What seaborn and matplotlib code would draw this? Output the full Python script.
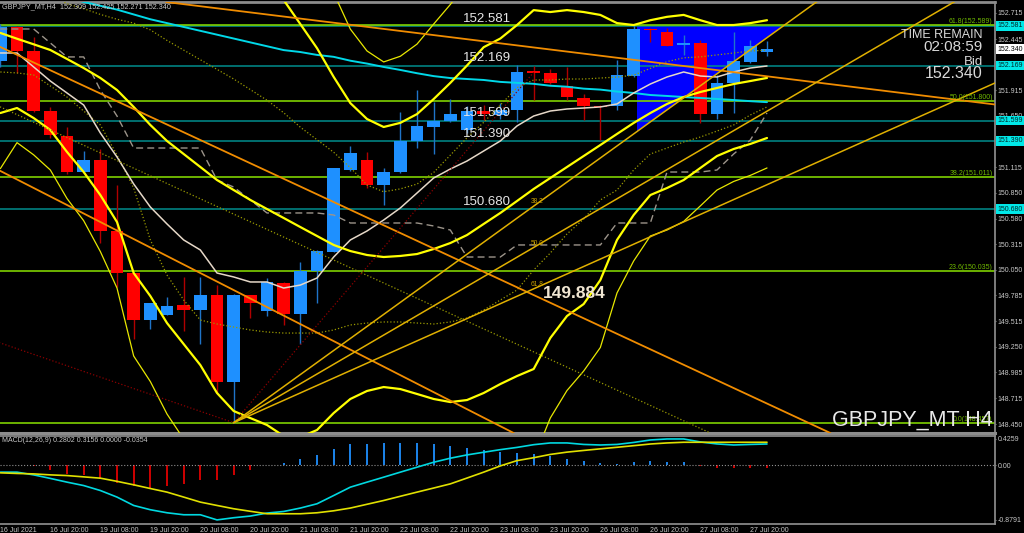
import numpy as np
import pandas as pd
import matplotlib
matplotlib.use('Agg')
import matplotlib.pyplot as plt
import matplotlib.transforms as mtransforms
import seaborn as sns

# H4 candles, bar 0 = 16 Jul 2021 08:00
opens = [152.217, 152.573, 152.324, 151.698, 151.440, 151.062, 151.190, 150.456, 150.014, 149.530,
         149.585, 149.685, 149.633, 149.786, 148.883, 149.786, 149.623, 149.910, 149.592, 150.038,
         150.238, 151.085, 151.190, 150.930, 151.062, 151.390, 151.535, 151.594, 151.500, 151.700,
         151.660, 151.708, 152.110, 152.090, 151.957, 151.836, 151.748, 151.750, 152.061, 152.550,
         152.520, 152.385, 152.400, 151.667, 151.985, 152.210, 152.309]
highs = [152.600, 152.580, 152.466, 151.740, 151.535, 151.286, 151.304, 150.930, 150.020, 149.710,
         149.771, 149.972, 149.972, 149.893, 149.796, 149.790, 149.968, 149.920, 150.135, 150.260,
         151.110, 151.338, 151.270, 151.110, 151.691, 151.916, 151.795, 151.820, 151.750, 151.760,
         151.780, 152.175, 152.160, 152.130, 152.158, 151.874, 151.760, 152.227, 152.590, 152.560,
         152.556, 152.487, 152.435, 152.072, 152.520, 152.430, 152.425]
lows = [152.150, 152.095, 151.690, 151.420, 151.040, 151.050, 150.330, 149.875, 149.330, 149.436,
        149.580, 149.415, 149.277, 148.769, 148.464, 149.547, 149.571, 149.478, 149.280, 149.703,
        150.230, 151.080, 150.900, 150.720, 151.050, 151.318, 151.249, 151.580, 151.470, 151.600,
        151.620, 151.587, 151.810, 151.980, 151.812, 151.605, 151.397, 151.708, 152.050, 152.417,
        152.370, 152.279, 151.570, 151.615, 151.674, 152.200, 152.271]
closes = [152.573, 152.324, 151.698, 151.449, 151.062, 151.190, 150.456, 150.014, 149.530, 149.703,
          149.678, 149.633, 149.789, 148.889, 149.786, 149.710, 149.920, 149.588, 150.040, 150.249,
          151.103, 151.259, 150.930, 151.068, 151.390, 151.540, 151.597, 151.664, 151.700, 151.670,
          151.710, 152.100, 152.090, 151.990, 151.840, 151.753, 151.738, 152.072, 152.546, 152.535,
          152.373, 152.395, 151.664, 151.990, 152.217, 152.370, 152.340]

# bollinger bands (20, dev 2 and dev 3)
bb_mid = [152.508, 152.448, 152.390, 152.331, 152.238, 152.144, 152.041, 151.916, 151.740, 151.553,
          151.387, 151.252, 151.117, 150.982, 150.878, 150.775, 150.681, 150.588, 150.494, 150.401,
          150.308, 150.245, 150.204, 150.183, 150.194, 150.214, 150.266, 150.328, 150.411, 150.526,
          150.640, 150.764, 150.889, 151.003, 151.117, 151.231, 151.345, 151.460, 151.574, 151.677,
          151.771, 151.843, 151.895, 151.937, 151.978, 152.009, 152.041]
bb_up = [153.339, 153.167, 153.155, 153.161, 153.203, 153.223, 153.256, 153.286, 153.463, 153.328,
         153.276, 153.224, 153.172, 153.192, 153.171, 153.038, 152.922, 152.850, 152.600, 152.350,
         152.052, 151.780, 151.615, 151.532, 151.575, 151.666, 151.822, 151.990, 152.170, 152.360,
         152.450, 152.590, 152.745, 152.725, 152.745, 152.725, 152.695, 152.610, 152.590, 152.640,
         152.675, 152.695, 152.640, 152.590, 152.590, 152.610, 152.640]
bb_low = [151.677, 151.729, 151.625, 151.501, 151.273, 151.065, 150.826, 150.546, 150.017, 149.778,
          149.498, 149.280, 149.062, 148.772, 148.585, 148.512, 148.440, 148.326, 148.315, 148.388,
          148.564, 148.710, 148.793, 148.834, 148.813, 148.762, 148.710, 148.678, 148.699, 148.772,
          148.865, 148.948, 149.021, 149.343, 149.571, 149.695, 149.944, 150.360, 150.619, 150.826,
          150.899, 150.982, 151.107, 151.231, 151.304, 151.356, 151.418]
bb3_up = [153.75, 153.53, 153.54, 153.58, 153.69, 153.76, 153.86, 153.97, 154.32, 154.22,
          154.22, 154.21, 154.20, 154.30, 154.32, 154.17, 154.04, 153.98, 153.69, 153.36,
          152.924, 152.548, 152.321, 152.207, 152.266, 152.392, 152.600, 152.803, 153.03, 153.24,
          153.34, 153.50, 153.69, 153.55, 153.51, 153.50, 153.40, 153.16, 153.07, 153.07,
          153.12, 153.13, 153.03, 152.94, 152.93, 152.94, 152.95]
bb3_low = [151.100, 151.370, 151.243, 151.086, 150.790, 150.560, 150.240, 149.861, 149.156, 148.891,
           148.554, 148.294, 148.035, 147.667, 147.439, 147.381, 147.320, 147.195, 147.226, 147.382,
           147.692, 147.943, 148.088, 148.160, 148.123, 148.036, 147.932, 147.853, 147.843, 147.895,
           147.978, 148.040, 148.087, 148.513, 148.798, 149.000, 149.244, 149.810, 150.142, 150.401,
           150.463, 150.552, 150.713, 150.878, 150.967, 151.030, 151.107]

# moving averages and other overlays
ma_fast = [152.300, 152.300, 152.155, 152.009, 151.885, 151.760, 151.470, 151.221, 150.941, 150.702,
           150.526, 150.360, 150.256, 150.017, 149.976, 149.924, 149.924, 149.861, 149.892, 149.965,
           150.183, 150.360, 150.453, 150.567, 150.692, 150.847, 151.003, 151.096, 151.179, 151.283,
           151.387, 151.543, 151.646, 151.698, 151.719, 151.729, 151.740, 151.771, 151.885, 151.978,
           152.051, 152.103, 152.061, 152.051, 152.103, 152.144, 152.165]
ma_slow = [153.06, 153.02, 152.96, 152.92, 152.88, 152.83, 152.79, 152.75, 152.70, 152.65,
           152.61, 152.57, 152.53, 152.49, 152.45, 152.41, 152.37, 152.33, 152.31, 152.28,
           152.26, 152.22, 152.19, 152.155, 152.124, 152.09, 152.06, 152.04, 152.03, 152.02,
           152.00, 151.99, 151.98, 151.96, 151.95, 151.93, 151.92, 151.90, 151.885, 151.864,
           151.854, 151.843, 151.833, 151.823, 151.812, 151.80, 151.79]
kijun = [152.549, 152.549, 152.549, 152.404, 152.259, 152.259, 151.916, 151.646, 151.314, 151.314,
         151.314, 151.314, 151.314, 150.982, 150.909, 150.775, 150.640, 150.640, 150.640, 150.640,
         150.619, 150.536, 150.536, 150.536, 150.536, 150.536, 150.505, 150.463, 150.183, 150.183,
         150.183, 150.308, 150.308, 150.308, 150.308, 150.308, 150.308, 150.536, 150.536, 150.536,
         151.065, 151.065, 151.065, 151.086, 151.252, 151.397, 151.677]
dotted_a = [153.26, 153.16, 153.04, 152.91, 152.81, 152.76, 152.70, 152.65, 152.61, 152.54,
            152.43, 152.33, 152.23, 152.13, 152.03, 151.92, 151.81, 151.68, 151.53, 151.40,
            151.27, 151.11, 150.93, 150.86, 150.89, 150.94, 151.06, 151.24, 151.42, 151.58,
            151.76, 151.94, 152.02, 152.02, 152.03, 152.03, 152.04, 152.05, 152.07, 152.14,
            152.21, 152.25, 152.26, 152.28, 152.30, 152.32, 152.33]
dotted_b = [152.103, 152.093, 152.072, 151.958, 151.843, 151.698, 151.553, 151.242, 150.899, 150.360,
            149.996, 149.737, 149.529, 149.488, 149.457, 149.426, 149.405, 149.394, 149.394, 149.394,
            149.426, 149.478, 149.498, 149.509, 149.509, 149.498, 149.488, 149.509, 149.550, 149.633,
            149.737, 149.841, 150.048, 150.225, 150.422, 150.577, 150.775, 150.878, 151.086, 151.252,
            151.314, 151.376, 151.428, 151.490, 151.553, 151.657, 151.740]

# MACD(12,26,9)
macd_main = [-0.109, -0.109, -0.153, -0.210, -0.270, -0.325, -0.405, -0.511, -0.646, -0.715,
             -0.764, -0.796, -0.796, -0.879, -0.844, -0.817, -0.769, -0.743, -0.688, -0.619,
             -0.486, -0.351, -0.270, -0.190, -0.109, -0.029, 0.051, 0.116, 0.169, 0.212,
             0.254, 0.290, 0.334, 0.362, 0.362, 0.338, 0.329, 0.338, 0.370, 0.410,
             0.426, 0.426, 0.378, 0.346, 0.329, 0.338, 0.345]
macd_signal = [-0.120, -0.130, -0.137, -0.153, -0.164, -0.185, -0.206, -0.257, -0.313, -0.373,
               -0.431, -0.511, -0.592, -0.646, -0.699, -0.740, -0.780, -0.780, -0.780, -0.764,
               -0.732, -0.688, -0.627, -0.566, -0.498, -0.431, -0.365, -0.298, -0.204, -0.109,
               -0.008, 0.077, 0.124, 0.177, 0.214, 0.241, 0.267, 0.292, 0.318, 0.345,
               0.362, 0.373, 0.373, 0.373, 0.373, 0.373, 0.373]
macd_hist = [0.0, 0.005, -0.005, -0.081, -0.135, -0.157, -0.226, -0.280, -0.334, -0.361,
             -0.334, -0.296, -0.242, -0.242, -0.157, -0.081, 0.008, 0.042, 0.106, 0.166,
             0.268, 0.339, 0.349, 0.360, 0.365, 0.365, 0.349, 0.311, 0.284, 0.242,
             0.220, 0.204, 0.188, 0.150, 0.106, 0.069, 0.032, 0.027, 0.053, 0.069,
             0.053, 0.053, -0.011, -0.038, -0.048, -0.038, -0.0354]

# horizontal levels
teal_levels = [152.581, 152.169, 151.599, 151.390, 150.680]
fib_pct = [61.8, 50.0, 38.2, 23.6, 0.0]
fib_prices = [152.589, 151.800, 151.011, 150.035, 148.457]

# trend lines (bar, price) anchor pairs
orange_lines = [((9.9, 152.830), (59.7, 151.765)),
                ((0.0, 152.362), (49.8, 148.357)),
                ((0.0, 151.076), (30.8, 148.357))]
olive_channel = ((0.0, 151.740), (42.6, 148.357))
red_line = ((-1.0, 149.350), (14.0, 148.464))
fan_a = (14.0, 148.464)
fan_b = (32.0, 152.100)
fan_levels = [38.2, 50.0, 61.8]
tri_bars = [38.2, 47.0, 38.2]
tri_prices = [152.585, 152.585, 151.485]

price_ticks = [152.715, 152.445, 151.915, 151.650, 151.115, 150.850, 150.580, 150.315,
               150.050, 149.785, 149.515, 149.250, 148.985, 148.715, 148.450]
date_bars = [0, 3, 6, 9, 12, 15, 18, 21, 24, 27, 30, 33, 36, 39, 42, 45]
date_labels = ['16 Jul 2021', '16 Jul 20:00', '19 Jul 08:00', '19 Jul 20:00', '20 Jul 08:00',
               '20 Jul 20:00', '21 Jul 08:00', '21 Jul 20:00', '22 Jul 08:00', '22 Jul 20:00',
               '23 Jul 08:00', '23 Jul 20:00', '26 Jul 08:00', '26 Jul 20:00', '27 Jul 08:00',
               '27 Jul 20:00']

sns.set_theme(style='dark', rc={'axes.facecolor': 'black', 'figure.facecolor': 'black',
                                'axes.edgecolor': '#8c8c8c', 'axes.grid': False})
plt.rcParams['font.family'] = ['Liberation Sans', 'DejaVu Sans']

GRAY = '#8c8c8c'
TXT = '#c8c8c8'

fig = plt.figure(figsize=(10.24, 5.33), dpi=100)
ax = fig.add_axes([0, 1 - 433 / 533, 995 / 1024, 431 / 533])
ax2 = fig.add_axes([0, 1 - 524 / 533, 995 / 1024, 88 / 533])

idx = np.arange(len(opens))
ind = pd.DataFrame({'bar': idx, 'bb_mid': bb_mid, 'bb_up': bb_up, 'bb_low': bb_low,
                    'bb3_up': bb3_up, 'bb3_low': bb3_low, 'ma_fast': ma_fast,
                    'ma_slow': ma_slow, 'kijun': kijun, 'dotted_a': dotted_a,
                    'dotted_b': dotted_b, 'macd': macd_main, 'signal': macd_signal})

# blue triangle object
ax.fill(tri_bars, tri_prices, color='#0000ff', lw=0, zorder=1)

# horizontal lines
for p in teal_levels:
    ax.axhline(p, color='#008c8c', lw=1.1, zorder=2)
for pct, p in zip(fib_pct, fib_prices):
    ax.axhline(p, color='#7fd000', lw=1.2, zorder=2)
    ax.text(59.55, p + 0.004, '%.1f(%.3f)' % (pct, p), color='#6fb800', fontsize=5,
            ha='right', va='bottom', zorder=6)

# candles
o = np.array(opens); c = np.array(closes)
bull = c >= o
ax.vlines(idx, lows, highs, colors=np.where(bull, '#1f74c8', '#b00000'), lw=1, zorder=3)
ax.bar(idx, np.maximum(np.abs(c - o), 0.014), bottom=np.minimum(o, c), width=0.75,
       color=np.where(bull, '#1e90ff', '#ff0000'), linewidth=0, zorder=3.5)

# indicators
sns.lineplot(data=ind, x='bar', y='dotted_a', ax=ax, color='#9a9a00', lw=0.9, linestyle=':', zorder=4)
sns.lineplot(data=ind, x='bar', y='dotted_b', ax=ax, color='#9a9a00', lw=0.9, linestyle=':', zorder=4)
sns.lineplot(data=ind, x='bar', y='kijun', ax=ax, color='#9c948a', lw=1.0, linestyle=(0, (5, 3)), zorder=4)
sns.lineplot(data=ind, x='bar', y='ma_slow', ax=ax, color='#00d8e8', lw=1.4, zorder=4)
sns.lineplot(data=ind, x='bar', y='ma_fast', ax=ax, color='#e6d8c8', lw=1.1, zorder=4)
for col in ['bb3_up', 'bb3_low']:
    sns.lineplot(data=ind, x='bar', y=col, ax=ax, color='#e8e800', lw=0.9, zorder=4)
for col in ['bb_up', 'bb_mid', 'bb_low']:
    sns.lineplot(data=ind, x='bar', y=col, ax=ax, color='#ffff00', lw=1.6, zorder=4)

# trend lines
for p1, p2 in orange_lines:
    ax.axline(p1, p2, color='#f08c00', lw=1.3, zorder=4)
ax.axline(olive_channel[0], olive_channel[1], color='#9a9a00', lw=0.9, linestyle=':', zorder=4)
ax.plot([red_line[0][0], red_line[1][0]], [red_line[0][1], red_line[1][1]],
        color='#8b0000', lw=0.9, linestyle=':', zorder=4)
ax.plot([fan_a[0], fan_b[0]], [fan_a[1], fan_b[1]], color='#8b0000', lw=0.9, linestyle=':', zorder=4)
for lv in fan_levels:
    pb = fan_b[1] - lv / 100 * (fan_b[1] - fan_a[1])
    slope = (pb - fan_a[1]) / (fan_b[0] - fan_a[0])
    xs = np.array([fan_a[0], 62.0])
    ax.plot(xs, fan_a[1] + slope * (xs - fan_a[0]), color='#e0b000', lw=1.1, zorder=4)
    ax.text(fan_b[0] - 0.2, pb + 0.01, '%.1f' % lv, color='#c8a000', fontsize=4.8,
            ha='left', va='bottom', zorder=6)

# texts on chart
for p in teal_levels:
    ax.text(27.75, p + 0.012, '%.3f' % p, color='#e6e6e6', fontsize=9.5,
            ha='left', va='bottom', zorder=6)
ax.text(32.55, 149.80, '149.884', color='#f0e6d2', fontsize=12.5, fontweight='bold',
        ha='left', va='center', zorder=6)
ax.text(59.55, 148.487, 'GBPJPY_MT H4', color='#e8e8e8', fontsize=15.5,
        ha='right', va='center', zorder=6)
ax.text(58.95, 152.482, 'TIME REMAIN', color='#d8d8d8', fontsize=9, ha='right', va='center', zorder=6)
ax.text(58.95, 152.357, '02:08:59', color='#d8d8d8', fontsize=11, ha='right', va='center', zorder=6)
ax.text(58.95, 152.207, 'Bid', color='#d8d8d8', fontsize=9.5, ha='right', va='center', zorder=6)
ax.text(58.95, 152.092, '152.340', color='#d8d8d8', fontsize=11.5, ha='right', va='center', zorder=6)

# axes setup
for a in (ax, ax2):
    a.set_xlim(-0.02, 59.68)
    a.set_xlabel('')
    a.set_ylabel('')
    a.spines['left'].set_visible(False)
    for s in ['top', 'bottom', 'right']:
        a.spines[s].set_color(GRAY)
    a.yaxis.tick_right()
    a.tick_params(axis='y', colors=GRAY, labelcolor=TXT, labelsize=5, length=1, pad=1, width=0.8)
ax.spines['top'].set_linewidth(2)
ax.spines['bottom'].set_linewidth(2.2)
ax.set_ylim(148.357, 152.829)
ax.set_yticks(price_ticks)
ax.set_yticklabels(['%.3f' % t for t in price_ticks])
ax.set_xticks([])

# right axis labels with backgrounds
trans = mtransforms.blended_transform_factory(ax.transAxes, ax.transData)
for p in teal_levels:
    ax.text(1.0025, p, '%.3f' % p, transform=trans, fontsize=5, color='#002828',
            ha='left', va='center', clip_on=False, zorder=7,
            bbox=dict(boxstyle='square,pad=0.2', fc='#00e8e8', ec='none'))
ax.text(1.0025, closes[-1], '%.3f' % closes[-1], transform=trans, fontsize=5, color='black',
        ha='left', va='center', clip_on=False, zorder=7,
        bbox=dict(boxstyle='square,pad=0.2', fc='white', ec='none'))

# MACD panel
ax2.vlines(idx, 0, macd_hist, colors=np.where(np.array(macd_hist) >= 0, '#1e90ff', '#e00000'), lw=1.3)
ax2.axhline(0, color='#909090', lw=0.8, linestyle=':')
sns.lineplot(data=ind, x='bar', y='macd', ax=ax2, color='#00d8e0', lw=1.2)
sns.lineplot(data=ind, x='bar', y='signal', ax=ax2, color='#e0e000', lw=1.2)
ax2.set_ylim(-0.945, 0.474)
ax2.set_yticks([0.4259, 0.0, -0.8791])
ax2.set_yticklabels(['0.4259', '0.00', '-0.8791'])
ax2.set_xlabel('')
ax2.set_ylabel('')
ax2.set_xticks(date_bars)
ax2.set_xticklabels(date_labels, ha='left')
ax2.tick_params(axis='x', colors=GRAY, labelcolor=TXT, labelsize=5, length=1.5, pad=0.5)

fig.text(0.002, 1 - 7 / 533, 'GBPJPY_MT,H4  152.309 152.425 152.271 152.340', color=TXT,
         fontsize=5.2, ha='left', va='center')
fig.text(0.002, 1 - 441 / 533, 'MACD(12,26,9) 0.2802 0.3156 0.0000 -0.0354', color=TXT,
         fontsize=5, ha='left', va='center')

fig.savefig('out.png', dpi=100, facecolor='black')
